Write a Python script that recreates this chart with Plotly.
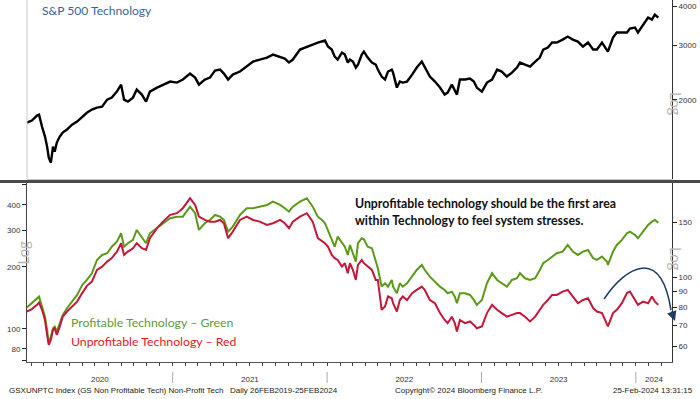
import datetime as dt
import plotly.graph_objects as go

# ---------------- data ----------------
dates = [
    "2020-01-22","2020-02-03","2020-02-15","2020-02-20","2020-02-27","2020-03-05","2020-03-10","2020-03-14",
    "2020-03-19","2020-03-24","2020-03-28","2020-04-02","2020-04-09","2020-04-16","2020-04-26","2020-05-08",
    "2020-05-20","2020-06-01","2020-06-12","2020-06-24","2020-07-06","2020-07-18","2020-07-30","2020-08-10",
    "2020-08-22","2020-09-01","2020-09-08","2020-09-17","2020-09-29","2020-10-08","2020-10-20","2020-10-30",
    "2020-11-08","2020-11-25","2020-12-09","2020-12-26",
    "2021-01-11","2021-01-25","2021-02-11","2021-02-23","2021-03-04","2021-03-18","2021-03-30","2021-04-11",
    "2021-04-23","2021-05-02","2021-05-12","2021-05-23","2021-06-09","2021-06-25","2021-07-10","2021-07-26",
    "2021-08-12","2021-08-26","2021-09-12","2021-09-23","2021-10-03","2021-10-12","2021-10-29","2021-11-14",
    "2021-11-28","2021-12-10","2021-12-20","2021-12-27",
    "2022-01-03","2022-01-12","2022-01-19","2022-01-26","2022-02-05","2022-02-12","2022-02-19","2022-02-24",
    "2022-03-03","2022-03-10","2022-03-15","2022-03-24","2022-03-29","2022-04-07","2022-04-17","2022-04-26",
    "2022-05-01","2022-05-10","2022-05-18","2022-05-25","2022-06-03","2022-06-06","2022-06-15","2022-06-22",
    "2022-06-29","2022-07-09","2022-07-21","2022-08-01","2022-08-13","2022-08-20","2022-09-01","2022-09-13",
    "2022-09-25","2022-10-06","2022-10-13","2022-10-23","2022-10-30","2022-11-04","2022-11-11","2022-11-23",
    "2022-12-05","2022-12-14","2022-12-21",
    "2023-01-02","2023-01-14","2023-01-26","2023-02-07","2023-02-18","2023-03-02","2023-03-14","2023-03-26",
    "2023-04-02","2023-04-14","2023-04-26","2023-05-08","2023-05-19","2023-05-27","2023-06-07","2023-06-17",
    "2023-06-28","2023-07-12","2023-07-24","2023-08-05","2023-08-17","2023-08-29","2023-09-10","2023-09-22",
    "2023-10-01","2023-10-13","2023-10-25","2023-10-27","2023-11-08","2023-11-17","2023-11-29","2023-12-11",
    "2023-12-18","2023-12-30",
    "2024-01-06","2024-01-18","2024-01-30","2024-02-08","2024-02-15","2024-02-23",
]

sp500_tech = [
    1689,1715,1780,1793,1640,1523,1414,1303,1255,1414,1362,1457,1523,1570,1605,1664,1702,1767,1818,1861,
    1889,1902,2004,2034,2127,2240,2004,1974,2034,2159,2080,1974,2127,2191,2240,2291,
    2274,2326,2431,2360,2240,2326,2360,2486,2504,2431,2326,2413,2468,2561,2658,2698,2738,2799,2757,2718,
    2639,2698,2906,2971,3016,3061,3084,3107,
    2971,2906,2757,2698,2841,2799,2639,2698,2658,2542,2599,2799,2863,2738,2639,2599,2504,2378,2326,2468,
    2504,2449,2191,2291,2274,2291,2413,2542,2658,2561,2378,2291,2191,2080,2111,2240,2159,2080,2326,2326,
    2343,2291,2191,
    2127,2274,2326,2504,2468,2378,2449,2542,2639,2599,2561,2658,2738,2906,2949,3061,3061,3129,3200,3129,
    3084,2971,3061,2906,2906,3061,2906,2863,3178,3297,3297,3297,3397,3423,
    3297,3498,3685,3631,3769,3685,
]

profitable_tech = [
    127,133.3,140.9,143.5,128.3,114.7,98.9,85.2,91.7,100.8,102.6,97.0,106.6,116.9,126.0,135.7,146.2,163.5,
    172.9,186.4,216.2,228.7,233.1,250.8,265.3,291.4,250.8,260.6,270.4,302.4,280.5,260.6,291.4,308.3,326.0,344.5,
    350.8,350.8,392.3,364.4,302.4,326.0,338.1,357.5,350.8,338.1,296.7,313.8,357.5,385.4,385.4,392.3,399.9,
    414.9,399.9,385.4,370.9,392.3,414.9,430.9,392.3,350.8,338.1,326.0,
    302.4,275.6,250.8,280.5,260.6,250.8,228.7,255.7,233.1,212.1,260.6,275.6,272.5,250.8,246.5,216.2,197.1,
    160.4,166.7,160.4,172.9,160.4,149.1,166.7,160.4,166.7,179.4,193.3,204.5,193.3,179.4,169.7,160.4,154.6,
    149.1,151.7,143.5,133.3,149.1,149.1,146.2,138.3,130.8,
    138.3,166.7,186.4,172.9,166.7,160.4,172.9,176.2,186.4,176.2,172.9,176.2,193.3,208.4,216.2,224.4,233.1,
    237.3,255.7,237.3,228.7,237.3,241.8,220.3,216.2,224.4,212.1,204.5,237.3,255.7,270.4,291.4,296.7,285.9,
    275.6,296.7,319.8,331.8,338.1,328.1,
]

unprofitable_tech = [
    77.6,79.0,81.5,82.9,78.6,72.9,65.3,60.7,63.0,67.8,68.6,65.3,69.5,74.7,77.6,80.5,83.5,88.9,93.8,96.8,
    105.5,108.1,112.2,115.1,120.8,128.5,117.9,120.8,123.8,128.5,123.8,122.3,133.4,143.6,150.7,158.4,
    160.4,166.4,179.1,170.5,156.4,152.6,150.7,150.7,152.6,148.9,133.4,140.0,152.6,156.4,152.6,150.7,147.1,
    148.9,152.6,148.9,143.6,150.7,156.4,160.4,150.7,133.4,130.1,128.5,
    125.3,117.9,115.1,113.6,108.1,110.9,103.0,110.9,105.5,98.0,109.5,113.6,110.9,108.1,105.5,98.0,98.0,
    78.6,80.5,86.7,85.6,82.5,77.6,84.5,86.7,84.5,88.9,91.0,93.3,91.0,84.5,82.5,76.7,72.9,71.2,74.7,71.2,
    66.9,72.9,71.2,72.1,70.3,68.6,
    69.5,76.7,81.5,78.6,76.7,74.7,75.7,76.7,76.7,74.7,72.1,74.7,78.6,81.5,84.5,87.7,87.7,89.9,91.0,86.7,
    82.5,84.5,85.6,79.6,77.6,76.7,71.2,69.5,76.7,78.6,82.5,88.9,89.9,84.5,
    81.5,83.5,82.5,86.7,83.5,81.5,
]

top_ticks = [2000, 3000, 4000]
left_ticks = [70, 80, 100, 200, 300, 400, 500]
left_ticktext = ["", "80", "100", "200", "300", "400", ""]
right_ticks = [60, 70, 80, 90, 100, 150]
years = [2020, 2021, 2022, 2023, 2024]

x_start = "2020-01-22 12:00"
x_end = "2024-03-26 12:00"

# ---------------- figure ----------------
W, H = 700, 399
ML, MR, MT, MB = 27, 28, 0, 37
PW, PH = W - ML - MR, H - MT - MB


def px(xp):
    return (xp - ML) / PW


def py(yp):
    return (H - MB - yp) / PH


GREEN = "#5b9a18"
RED = "#c4173a"
TICKFONT = dict(family="Liberation Sans, Arial, sans-serif", size=8, color="#333333")
TEXTFONT = "Lato, Carlito, Calibri, sans-serif"

fig = go.Figure()
fig.add_trace(go.Scatter(x=dates, y=sp500_tech, mode="lines", xaxis="x", yaxis="y",
                         line=dict(color="black", width=2.4), showlegend=False))
fig.add_trace(go.Scatter(x=dates, y=profitable_tech, mode="lines", xaxis="x2", yaxis="y2",
                         line=dict(color=GREEN, width=2), showlegend=False))
fig.add_trace(go.Scatter(x=dates, y=unprofitable_tech, mode="lines", xaxis="x2", yaxis="y3",
                         line=dict(color=RED, width=2), showlegend=False))

top_dom = [py(179), 1.0]
bot_dom = [0.0, py(183)]

# year label positions: centre of the visible part of each year
d0 = dt.datetime.fromisoformat(x_start)
d1 = dt.datetime.fromisoformat(x_end)
label_pos = []
for yr in years:
    a = max(d0, dt.datetime(yr, 1, 1))
    b = min(d1, dt.datetime(yr + 1, 1, 1))
    label_pos.append((a + (b - a) / 2).isoformat())

fig.update_layout(
    width=W, height=H,
    margin=dict(l=ML, r=MR, t=MT, b=MB, pad=0),
    paper_bgcolor="white", plot_bgcolor="white",
    showlegend=False,
    xaxis=dict(domain=[0, 1], anchor="y", type="date", range=[x_start, x_end],
               showgrid=False, zeroline=False, showticklabels=False, ticks="",
               showline=True, linecolor="#c8c8c8", linewidth=1),
    yaxis=dict(domain=top_dom, anchor="x", type="log", side="right",
               range=[3.046, 3.623], tickvals=top_ticks, ticktext=[str(v) for v in top_ticks],
               ticks="outside", ticklen=4, tickcolor="#222", tickwidth=1,
               showgrid=False, zeroline=False, showline=True, linecolor="#333", linewidth=1,
               tickfont=TICKFONT),
    xaxis2=dict(domain=[0, 1], anchor="y2", type="date", range=[x_start, x_end],
                showgrid=False, zeroline=False, showline=True, linecolor="#555", linewidth=1,
                tickmode="array", tickvals=label_pos, ticktext=[str(y) for y in years],
                ticks="", ticklabelstandoff=9, tickfont=TICKFONT,
                minor=dict(dtick="M1", tick0="2020-01-01", ticks="outside", ticklen=3,
                           tickcolor="#444", tickwidth=1, showgrid=False)),
    yaxis2=dict(domain=bot_dom, anchor="x2", type="log", side="left",
                range=[1.8395, 2.7085], tickvals=left_ticks, ticktext=left_ticktext,
                ticks="outside", ticklen=4, tickcolor="#222", tickwidth=1,
                showgrid=False, zeroline=False, showline=True, linecolor="#444", linewidth=1,
                tickfont=TICKFONT),
    yaxis3=dict(overlaying="y2", anchor="x2", type="log", side="right",
                range=[1.728, 2.302], tickvals=right_ticks, ticktext=[str(v) for v in right_ticks],
                ticks="outside", ticklen=4, tickcolor="#222", tickwidth=1,
                showgrid=False, zeroline=False, showline=True, linecolor="#333", linewidth=1,
                tickfont=TICKFONT),
)

shapes = []
# thick separator between the two panels
shapes.append(dict(type="line", xref="paper", yref="paper", x0=px(0), x1=px(700),
                   y0=py(181.5), y1=py(181.5), line=dict(color="#4a4a4a", width=3)))
# light left border of top panel
shapes.append(dict(type="line", xref="paper", yref="paper", x0=0, x1=0,
                   y0=top_dom[0], y1=1, line=dict(color="#c8c8c8", width=1)))
# year separators in the label band
for yr in years[1:]:
    shapes.append(dict(type="line", xref="x2", yref="paper", x0=f"{yr}-01-01", x1=f"{yr}-01-01",
                       y0=py(372), y1=py(383), line=dict(color="#aaaaaa", width=1)))
# curved dark-blue arrow
P0, C1, C2, P3 = (604, 299), (626, 266), (661, 246), (671, 310)
path = "M {:.4f},{:.4f} C {:.4f},{:.4f} {:.4f},{:.4f} {:.4f},{:.4f}".format(
    px(P0[0]), py(P0[1]), px(C1[0]), py(C1[1]), px(C2[0]), py(C2[1]), px(P3[0]), py(P3[1]))
shapes.append(dict(type="path", xref="paper", yref="paper", path=path,
                   line=dict(color="#1f3a68", width=1.5)))
fig.update_layout(shapes=shapes)

ann = []
ann.append(dict(xref="paper", yref="paper", x=px(675), y=py(321), ax=-4, ay=-11,
                text="", showarrow=True, arrowhead=2, arrowsize=1.3, arrowwidth=1.5,
                arrowcolor="#1f3a68"))
ann.append(dict(xref="paper", yref="paper", x=px(40), y=py(10), xanchor="left", yanchor="middle",
                text="S&P 500 Technology", showarrow=False,
                font=dict(family=TEXTFONT, size=12.1, color="#3b6497")))
ann.append(dict(xref="paper", yref="paper", x=px(353), y=py(203.3), xanchor="left", yanchor="middle",
                text="<b>Unprofitable technology should be the first area</b>", showarrow=False,
                font=dict(family=TEXTFONT, size=12.3, color="#111111")))
ann.append(dict(xref="paper", yref="paper", x=px(353), y=py(220.7), xanchor="left", yanchor="middle",
                text="<b>within Technology to feel system stresses.</b>", showarrow=False,
                font=dict(family=TEXTFONT, size=12.3, color="#111111")))
ann.append(dict(xref="paper", yref="paper", x=px(69), y=py(322.7), xanchor="left", yanchor="middle",
                text="Profitable Technology \u2013 Green", showarrow=False,
                font=dict(family=TEXTFONT, size=12.3, color="#5f9a3a")))
ann.append(dict(xref="paper", yref="paper", x=px(69), y=py(341), xanchor="left", yanchor="middle",
                text="Unprofitable Technology \u2013 Red", showarrow=False,
                font=dict(family=TEXTFONT, size=12.3, color="#e41a2c")))
# "Log" axis captions
LOGFONT = dict(family="Lato, sans-serif", size=15, color="#b5b5b5")
ann.append(dict(xref="paper", yref="paper", x=px(687), y=py(90), text="Log", textangle=90,
                showarrow=False, font=LOGFONT))
ann.append(dict(xref="paper", yref="paper", x=px(687), y=py(273), text="Log", textangle=90,
                showarrow=False, font=LOGFONT))
ann.append(dict(xref="paper", yref="paper", x=px(11.5), y=py(267), text="Log", textangle=-90,
                showarrow=False, font=LOGFONT))
# footer
FOOT = dict(family="Liberation Sans, Arial, sans-serif", size=8, color="#222222")
ann.append(dict(xref="paper", yref="paper", x=px(7), y=py(390), xanchor="left", yanchor="middle",
                text="GSXUNPTC Index (GS Non Profitable Tech) Non-Profit Tech", showarrow=False, font=FOOT))
ann.append(dict(xref="paper", yref="paper", x=px(228), y=py(390), xanchor="left", yanchor="middle",
                text="Daily 26FEB2019-25FEB2024", showarrow=False, font=FOOT))
ann.append(dict(xref="paper", yref="paper", x=px(393), y=py(390), xanchor="left", yanchor="middle",
                text="Copyright\u00a9 2024 Bloomberg Finance L.P.", showarrow=False, font=FOOT))
ann.append(dict(xref="paper", yref="paper", x=px(695), y=py(390), xanchor="right", yanchor="middle",
                text="25-Feb-2024 13:31:15", showarrow=False, font=FOOT))
fig.update_layout(annotations=ann)

fig.write_html("out.html", config={"displayModeBar": False},
               post_script="document.body.style.margin='0';document.body.style.overflow='hidden';")
